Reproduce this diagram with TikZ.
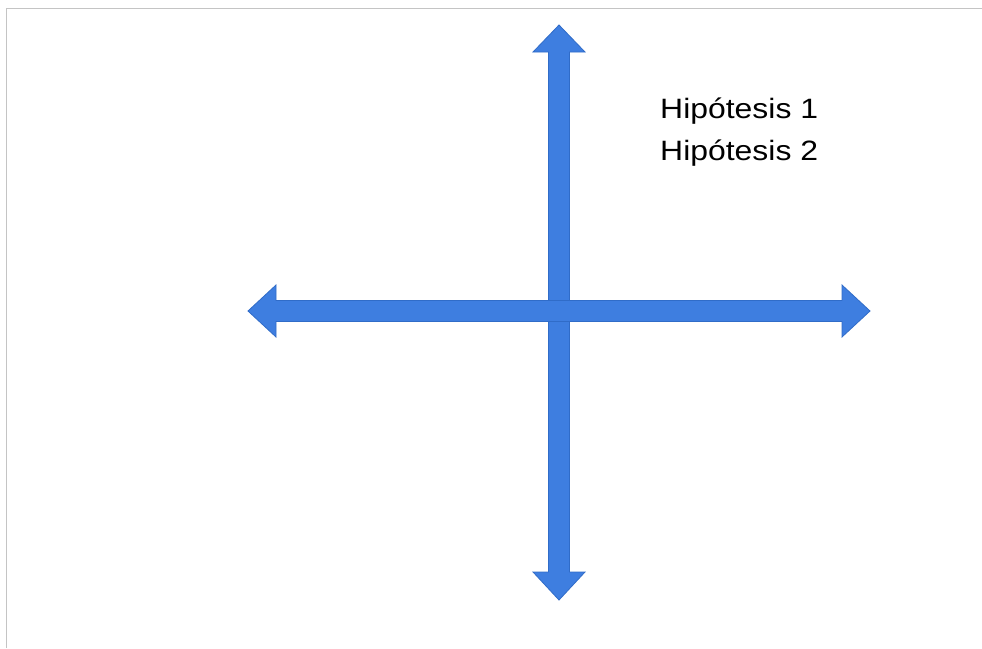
\documentclass[tikz,border=0pt]{standalone}
\usepackage{fontspec}
\setmainfont{Liberation Sans}
\definecolor{arrowblue}{RGB}{62,126,224}
\definecolor{arrowedge}{RGB}{48,108,200}
\definecolor{framegray}{RGB}{196,196,196}
\begin{document}
\begin{tikzpicture}[x=1pt,y=-1pt,
  dblarrow/.style={fill=arrowblue,draw=arrowedge,line width=0.8pt,line join=miter},
  hyptext/.style={anchor=base west,inner sep=0pt,font=\fontsize{28}{34}\selectfont}]
\useasboundingbox (0,0) rectangle (982,648);
\fill[white] (0,0) rectangle (982,648);
% frame lines
\draw[framegray,line width=1.5pt] (6.5,648) -- (6.5,8.5) -- (982,8.5);
% vertical double arrow
\draw[dblarrow] (559,25) -- (585,52) -- (569.5,52) -- (569.5,572) -- (585,572)
  -- (559,600) -- (533,572) -- (548.5,572) -- (548.5,52) -- (533,52) -- cycle;
% horizontal double arrow
\draw[dblarrow] (248,311) -- (276,285) -- (276,300.5) -- (842,300.5) -- (842,285)
  -- (870,311) -- (842,337) -- (842,321.5) -- (276,321.5) -- (276,337) -- cycle;
% re-fill the crossing so the edges do not show
\fill[arrowblue] (549,301) rectangle (569,321);
% texts
\node[hyptext] (h1) at (660,118.5) {\scalebox{1.14}[1]{Hipótesis 1}};
\node[hyptext] (h2) at (660,160.5) {\scalebox{1.14}[1]{Hipótesis 2}};
\end{tikzpicture}
\end{document}
